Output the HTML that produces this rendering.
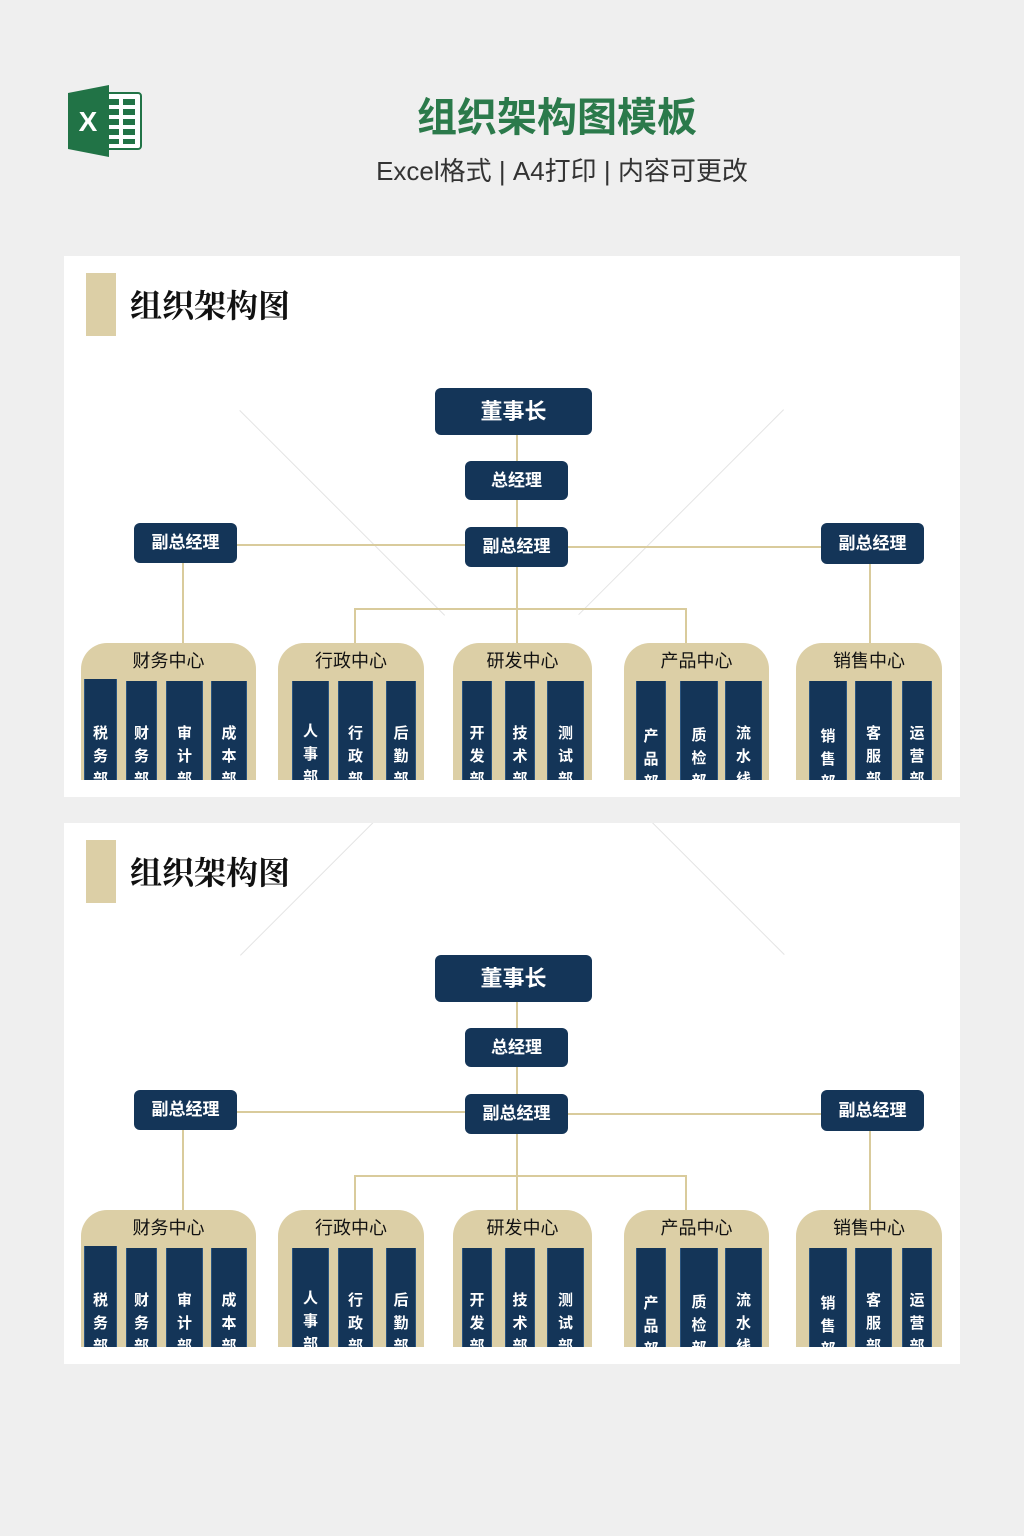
<!DOCTYPE html>
<html><head><meta charset="utf-8"><style>
*{margin:0;padding:0;box-sizing:border-box}
body{width:1024px;height:1536px;background:#efefef;position:relative;overflow:hidden;font-family:"Liberation Sans","Noto Sans CJK SC",sans-serif}
.a{position:absolute}
.panel{position:absolute;left:64px;width:896px;height:541px;background:#fff;overflow:hidden}
.bar{left:22px;top:17px;width:30px;height:63px;background:#dccfa6}
.pt{left:66px;top:28px;font-size:32px;line-height:44px;color:#111;font-weight:bold;font-family:"Liberation Serif","Noto Serif CJK SC",serif}
.bx{position:absolute;background:#143558;color:#fff;font-weight:bold;border-radius:6px;text-align:center;font-size:17px}
.ln{position:absolute;background:#d9cb9c}
.c{position:absolute;top:387px;height:137px;background:#dccfa6;border-radius:26px 26px 0 0;overflow:hidden}
.ct{position:absolute;left:0;right:0;top:8px;text-align:center;font-size:18px;line-height:20px;color:#111}
.col{position:absolute;top:38px;height:110px;background:#143558;color:#fff;font-weight:bold;font-size:15px;line-height:23px;text-align:center;padding-top:41px;border-left:1px solid #2b5580;border-right:1px solid #2b5580}
.wm{position:absolute;height:1px;background:#e4e4e4;transform-origin:0 0}
</style></head><body>
<svg class="a" style="left:67px;top:85px" width="76" height="72" viewBox="0 0 76 72">
<rect x="34" y="8" width="40" height="56" rx="3" fill="#fff" stroke="#217346" stroke-width="2"/>
<g fill="#217346"><rect x="40" y="14" width="12" height="6"/><rect x="56" y="14" width="12" height="6"/><rect x="40" y="24" width="12" height="6"/><rect x="56" y="24" width="12" height="6"/><rect x="40" y="34" width="12" height="6"/><rect x="56" y="34" width="12" height="6"/><rect x="40" y="44" width="12" height="6"/><rect x="56" y="44" width="12" height="6"/><rect x="40" y="54" width="12" height="5"/><rect x="56" y="54" width="12" height="5"/></g>
<polygon points="1,8 42,0 42,72 1,64" fill="#217346"/>
<text x="21" y="46" font-family="Liberation Sans" font-weight="bold" font-size="28" fill="#fff" text-anchor="middle">X</text>
</svg>
<div class="a" style="left:0;width:1114px;top:92px;text-align:center;font-size:40px;line-height:52px;color:#2b7a4b;font-weight:bold">组织架构图模板</div>
<div class="a" style="left:0;width:1124px;top:154px;text-align:center;font-size:26px;line-height:34px;color:#333">Excel格式 | A4打印 | 内容可更改</div>

<div class="panel" style="top:256px">
<div class="wm" style="left:176px;top:154px;width:290px;transform:rotate(45deg)"></div>
<div class="wm" style="left:720px;top:154px;width:290px;transform:rotate(135deg)"></div>
<div class="a bar"></div><div class="a pt">组织架构图</div>
<div class="ln" style="left:452px;top:179px;width:2px;height:208px"></div>
<div class="ln" style="left:173px;top:288px;width:228px;height:2px"></div>
<div class="ln" style="left:504px;top:290px;width:253px;height:2px"></div>
<div class="ln" style="left:291px;top:352px;width:332px;height:2px"></div>
<div class="ln" style="left:290px;top:352px;width:2px;height:35px"></div>
<div class="ln" style="left:621px;top:352px;width:2px;height:35px"></div>
<div class="ln" style="left:118px;top:307px;width:2px;height:80px"></div>
<div class="ln" style="left:805px;top:308px;width:2px;height:79px"></div>
<div class="bx" style="left:371px;top:132px;width:157px;height:47px;line-height:47px;font-size:22px">董事长</div>
<div class="bx" style="left:401px;top:205px;width:103px;height:39px;line-height:39px">总经理</div>
<div class="bx" style="left:401px;top:271px;width:103px;height:40px;line-height:40px">副总经理</div>
<div class="bx" style="left:70px;top:267px;width:103px;height:40px;line-height:40px">副总经理</div>
<div class="bx" style="left:757px;top:267px;width:103px;height:41px;line-height:41px">副总经理</div>
<div class="c" style="left:17px;width:175px"><div class="ct">财务中心</div>
<div class="col" style="left:3px;width:33px;top:36px;padding-top:43px">税<br>务<br>部</div><div class="col" style="left:45px;width:31px">财<br>务<br>部</div><div class="col" style="left:85px;width:37px">审<br>计<br>部</div><div class="col" style="left:130px;width:36px">成<br>本<br>部</div></div>
<div class="c" style="left:214px;width:146px"><div class="ct">行政中心</div>
<div class="col" style="left:14px;width:37px;padding-top:39px">人<br>事<br>部</div><div class="col" style="left:60px;width:35px">行<br>政<br>部</div><div class="col" style="left:108px;width:30px">后<br>勤<br>部</div></div>
<div class="c" style="left:389px;width:139px"><div class="ct">研发中心</div>
<div class="col" style="left:9px;width:30px">开<br>发<br>部</div><div class="col" style="left:52px;width:30px">技<br>术<br>部</div><div class="col" style="left:94px;width:37px">测<br>试<br>部</div></div>
<div class="c" style="left:560px;width:145px"><div class="ct">产品中心</div>
<div class="col" style="left:12px;width:30px;padding-top:44px">产<br>品<br>部</div><div class="col" style="left:56px;width:38px;padding-top:43px">质<br>检<br>部</div><div class="col" style="left:101px;width:37px">流<br>水<br>线</div></div>
<div class="c" style="left:732px;width:146px"><div class="ct">销售中心</div>
<div class="col" style="left:13px;width:38px;padding-top:44px">销<br>售<br>部</div><div class="col" style="left:59px;width:37px">客<br>服<br>部</div><div class="col" style="left:106px;width:30px">运<br>营<br>部</div></div>
</div>

<div class="panel" style="top:823px">
<div class="wm" style="left:176px;top:132px;width:230px;transform:rotate(-45deg)"></div>
<div class="wm" style="left:720px;top:132px;width:230px;transform:rotate(-135deg)"></div>
<div class="a bar"></div><div class="a pt">组织架构图</div>
<div class="ln" style="left:452px;top:179px;width:2px;height:208px"></div>
<div class="ln" style="left:173px;top:288px;width:228px;height:2px"></div>
<div class="ln" style="left:504px;top:290px;width:253px;height:2px"></div>
<div class="ln" style="left:291px;top:352px;width:332px;height:2px"></div>
<div class="ln" style="left:290px;top:352px;width:2px;height:35px"></div>
<div class="ln" style="left:621px;top:352px;width:2px;height:35px"></div>
<div class="ln" style="left:118px;top:307px;width:2px;height:80px"></div>
<div class="ln" style="left:805px;top:308px;width:2px;height:79px"></div>
<div class="bx" style="left:371px;top:132px;width:157px;height:47px;line-height:47px;font-size:22px">董事长</div>
<div class="bx" style="left:401px;top:205px;width:103px;height:39px;line-height:39px">总经理</div>
<div class="bx" style="left:401px;top:271px;width:103px;height:40px;line-height:40px">副总经理</div>
<div class="bx" style="left:70px;top:267px;width:103px;height:40px;line-height:40px">副总经理</div>
<div class="bx" style="left:757px;top:267px;width:103px;height:41px;line-height:41px">副总经理</div>
<div class="c" style="left:17px;width:175px"><div class="ct">财务中心</div>
<div class="col" style="left:3px;width:33px;top:36px;padding-top:43px">税<br>务<br>部</div><div class="col" style="left:45px;width:31px">财<br>务<br>部</div><div class="col" style="left:85px;width:37px">审<br>计<br>部</div><div class="col" style="left:130px;width:36px">成<br>本<br>部</div></div>
<div class="c" style="left:214px;width:146px"><div class="ct">行政中心</div>
<div class="col" style="left:14px;width:37px;padding-top:39px">人<br>事<br>部</div><div class="col" style="left:60px;width:35px">行<br>政<br>部</div><div class="col" style="left:108px;width:30px">后<br>勤<br>部</div></div>
<div class="c" style="left:389px;width:139px"><div class="ct">研发中心</div>
<div class="col" style="left:9px;width:30px">开<br>发<br>部</div><div class="col" style="left:52px;width:30px">技<br>术<br>部</div><div class="col" style="left:94px;width:37px">测<br>试<br>部</div></div>
<div class="c" style="left:560px;width:145px"><div class="ct">产品中心</div>
<div class="col" style="left:12px;width:30px;padding-top:44px">产<br>品<br>部</div><div class="col" style="left:56px;width:38px;padding-top:43px">质<br>检<br>部</div><div class="col" style="left:101px;width:37px">流<br>水<br>线</div></div>
<div class="c" style="left:732px;width:146px"><div class="ct">销售中心</div>
<div class="col" style="left:13px;width:38px;padding-top:44px">销<br>售<br>部</div><div class="col" style="left:59px;width:37px">客<br>服<br>部</div><div class="col" style="left:106px;width:30px">运<br>营<br>部</div></div>
</div>
</body></html>
